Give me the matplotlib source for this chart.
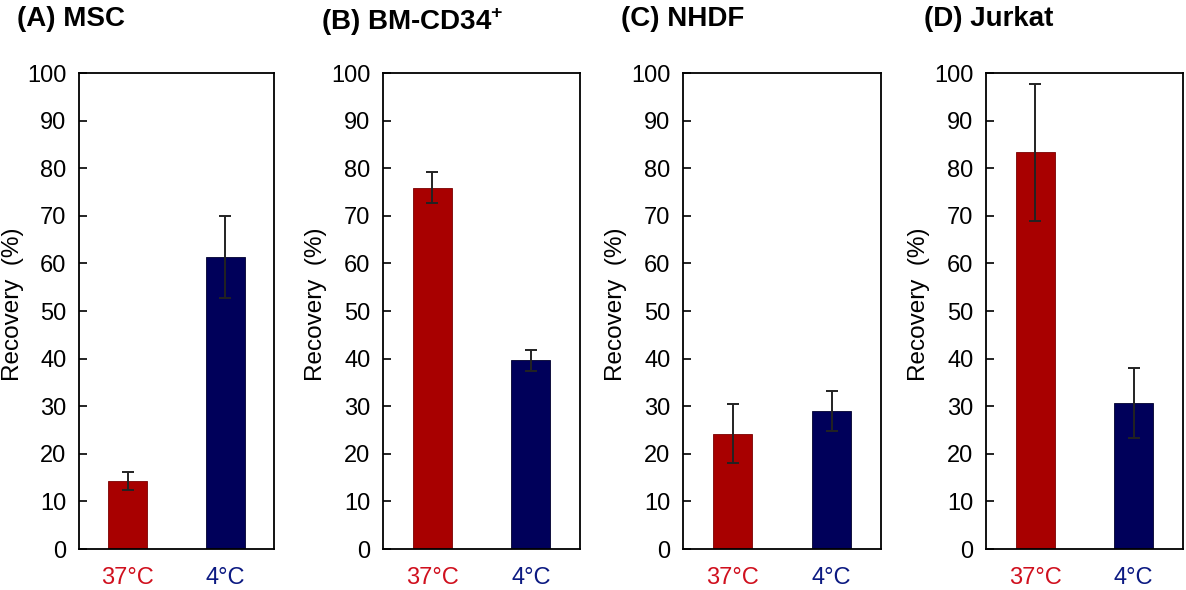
import numpy as np
import matplotlib
matplotlib.use("Agg")
import matplotlib.pyplot as plt

plt.rcParams['font.family'] = ['Liberation Sans', 'DejaVu Sans']
plt.rcParams['mathtext.fontset'] = 'custom'
plt.rcParams['mathtext.rm'] = 'Liberation Sans'
plt.rcParams['mathtext.bf'] = 'Liberation Sans:bold'

# data
panels = ['(A) MSC', r'(B) BM-CD34$^{\mathbf{+}}$', '(C) NHDF', '(D) Jurkat']
conditions = ['37\u00b0C', '4\u00b0C']
recovery = [[14.3, 61.4],
            [75.9, 39.7],
            [24.2, 29.0],
            [83.3, 30.7]]
errors = [[1.9, 8.6],
          [3.3, 2.2],
          [6.2, 4.2],
          [14.3, 7.3]]

bar_colors = ['#a80000', '#00005a']
label_colors = ['#d0101e', '#0c1a82']

W, H = 1186, 590
fig = plt.figure(figsize=(W / 100, H / 100), dpi=100)

# axes boxes in pixels (left, right)
boxes = [(79, 274), (383, 580), (683, 881), (986, 1183)]
top, bottom = 73, 549

for i, (l, r) in enumerate(boxes):
    ax = fig.add_axes([l / W, (H - bottom) / H, (r - l) / W, (bottom - top) / H])
    x = np.arange(len(conditions))
    ax.bar(x, recovery[i], width=0.4, color=bar_colors, edgecolor=['#7a0000', '#00002e'],
           linewidth=0.6, zorder=2)
    ax.errorbar(x, recovery[i], yerr=errors[i], fmt='none', ecolor='#222222',
                elinewidth=1.4, capsize=4, capthick=1.4, zorder=3)
    ax.set_xlim(-0.5, 1.5)
    ax.set_ylim(0, 100)
    ax.set_yticks(np.arange(0, 101, 10))
    ax.set_xticks(x)
    ax.set_xticklabels(conditions)
    for lab, c in zip(ax.get_xticklabels(), label_colors):
        lab.set_color(c)
    ax.tick_params(axis='y', direction='in', length=6, width=1.2, labelsize=17, pad=9)
    ax.tick_params(axis='x', length=0, labelsize=17, pad=13)
    for s in ax.spines.values():
        s.set_linewidth(1.3)
    ax.set_ylabel('Recovery  (%)', fontsize=17.5)
    # label sits about 55 px left of the axis, just past the tick numbers
    ax.yaxis.set_label_coords(-55 / 195, 0.515)
    fig.text((l - 62) / W, 1 - 6 / H, panels[i], fontsize=20, fontweight='bold',
             ha='left', va='top')

fig.savefig('out.png', dpi=100)
